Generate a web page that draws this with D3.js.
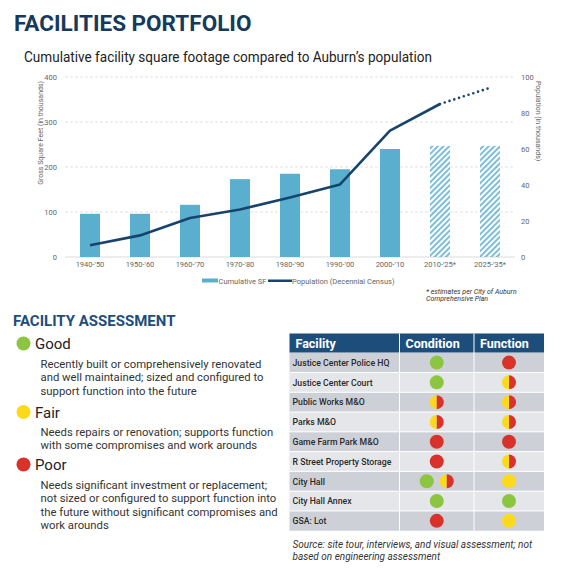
<!DOCTYPE html>
<html><head><meta charset="utf-8">
<script src="https://cdn.jsdelivr.net/npm/d3@7"></script>
<style>
html,body{margin:0;padding:0;background:#fff;}
svg{display:block;font-family:Roboto, "Noto Sans", sans-serif;}
</style></head>
<body>
<svg id="c" width="568" height="574"></svg>
<script>
// ---------- DATA ----------
const periods = ["1940-'50","1950-'60","1960-'70","1970-'80","1980-'90","1990-'00","2000-'10","2010-'25*","2025-'35*"];
const cumulativeSF = [96, 96, 116, 173, 185, 195, 240, 247, 247];          // thousands of sq ft
const projectedSF = [false,false,false,false,false,false,false,true,true];
const population = [6.5, 12, 21.7, 26.4, 33.1, 40.3, 70.2, 85, 94];        // thousands
const projectedPop = [false,false,false,false,false,false,false,false,true];
const leftTicks = [0, 100, 200, 300, 400];
const rightTicks = [0, 20, 40, 60, 80, 100];

const facilities = ["Justice Center Police HQ","Justice Center Court","Public Works M&O","Parks M&O","Game Farm Park M&O","R Street Property Storage","City Hall","City Hall Annex","GSA: Lot"];
const conditionRatings = [["good"],["good"],["fairpoor"],["fairpoor"],["poor"],["poor"],["good","fairpoor"],["good"],["poor"]];
const functionRatings = [["poor"],["fairpoor"],["fairpoor"],["fairpoor"],["poor"],["fairpoor"],["fair"],["good"],["fair"]];
const tableHeaders = ["Facility","Condition","Function"];

const legendLevels = ["Good","Fair","Poor"];
const legendKeys = ["good","fair","poor"];
const legendDescriptions = [
  ["Recently built or comprehensively renovated","and well maintained; sized and configured to","support function into the future"],
  ["Needs repairs or renovation; supports function","with some compromises and work arounds"],
  ["Needs significant investment or replacement;","not sized or configured to support function into","the future without significant compromises and","work arounds"]
];

// ---------- STYLE ----------
const C = {navy:"#16395c", blue:"#1d4e7b", bar:"#5aafcf", line:"#17446c", grid:"#d9d9d9", tick:"#666",
  good:"#8cc53f", fair:"#fdd91c", poor:"#d9322b", rowA:"#cdd1d7", rowB:"#e5e6e9"};

const svg = d3.select("#c");
svg.append("rect").attr("width",568).attr("height",574).attr("fill","#fff");

// Titles
svg.append("text").attr("x",14).attr("y",31).attr("font-size",22.5).attr("font-weight",700)
  .attr("fill",C.navy).text("FACILITIES PORTFOLIO");
svg.append("text").attr("x",24).attr("y",62).attr("font-size",14.5).attr("fill","#222")
  .attr("textLength",408).attr("lengthAdjust","spacingAndGlyphs")
  .text("Cumulative facility square footage compared to Auburn\u2019s population");

// ---------- CHART ----------
const x = d3.scaleBand().domain(periods).range([65,515]).paddingInner(0.6).paddingOuter(0.3);
const yL = d3.scaleLinear().domain([0,400]).range([257,77]);
const yR = d3.scaleLinear().domain([0,100]).range([257,77]);

const defs = svg.append("defs");
const pat = defs.append("pattern").attr("id","hatch").attr("patternUnits","userSpaceOnUse")
  .attr("width",4).attr("height",4).attr("patternTransform","rotate(45)");
pat.append("line").attr("x1",1).attr("y1",0).attr("x2",1).attr("y2",4)
  .attr("stroke",C.bar).attr("stroke-width",1.6);

// grid
svg.append("g").selectAll("line").data(leftTicks).join("line")
  .attr("x1",65).attr("x2",515).attr("y1",d=>yL(d)).attr("y2",d=>yL(d))
  .attr("stroke",d=>d===0?"#dcdcdc":C.grid).attr("stroke-width",d=>d===0?1.2:0.8)
  .attr("stroke-dasharray",d=>d===0?null:"3,2");

// axes
const axL = svg.append("g").attr("transform","translate(57,0)")
  .call(d3.axisLeft(yL).tickValues(leftTicks).tickSize(0).tickPadding(0));
const axR = svg.append("g").attr("transform","translate(521,0)")
  .call(d3.axisRight(yR).tickValues(rightTicks).tickSize(0).tickPadding(0));
[axL,axR].forEach(a=>{a.select(".domain").remove();
  a.selectAll("text").attr("font-size",7.5).attr("fill",C.tick).attr("font-family","Roboto");});
const axX = svg.append("g").attr("transform","translate(0,262)")
  .call(d3.axisBottom(x).tickSize(0).tickPadding(0));
axX.select(".domain").remove();
axX.selectAll("text").attr("font-size",7.5).attr("fill",C.tick).attr("font-family","Roboto");

svg.append("text").attr("transform","translate(43,81) rotate(-90)").attr("text-anchor","end")
  .attr("font-size",7).attr("fill",C.tick).text("Gross Square Feet (in thousands)");
svg.append("text").attr("transform","translate(536,81) rotate(90)").attr("text-anchor","start")
  .attr("font-size",7).attr("fill",C.tick).text("Population (in thousands)");

// bars
svg.append("g").selectAll("rect").data(periods).join("rect")
  .attr("x",d=>x(d)).attr("width",x.bandwidth())
  .attr("y",(d,i)=>yL(cumulativeSF[i])).attr("height",(d,i)=>yL(0)-yL(cumulativeSF[i]))
  .attr("fill",(d,i)=>projectedSF[i]?"url(#hatch)":C.bar);

// population line
const pts = periods.map((p,i)=>({x:x(p)+x.bandwidth()/2, y:yR(population[i]), proj:projectedPop[i]}));
const lineGen = d3.line().x(d=>d.x).y(d=>d.y);
const solid = pts.filter(d=>!d.proj);
const dotted = pts.slice(solid.length-1);
svg.append("path").attr("d",lineGen(solid)).attr("fill","none").attr("stroke",C.line)
  .attr("stroke-width",2.6).attr("stroke-linejoin","round");
svg.append("path").attr("d",lineGen(dotted)).attr("fill","none").attr("stroke",C.line)
  .attr("stroke-width",2.6).attr("stroke-dasharray","0,5").attr("stroke-linecap","round");

// legend
svg.append("rect").attr("x",202).attr("y",278.5).attr("width",16).attr("height",4).attr("fill",C.bar);
svg.append("text").attr("x",218.5).attr("y",283.5).attr("font-size",7.5).attr("fill",C.tick).text("Cumulative SF");
svg.append("rect").attr("x",268).attr("y",279.5).attr("width",24).attr("height",2.5).attr("fill",C.line);
svg.append("text").attr("x",292).attr("y",283.5).attr("font-size",7.5).attr("fill",C.tick).text("Population (Decennial Census)");

const fn = svg.append("text").attr("x",426).attr("font-size",7).attr("font-style","italic").attr("fill","#333");
fn.append("tspan").attr("x",426).attr("y",293.5).text("* estimates per City of Auburn");
fn.append("tspan").attr("x",426).attr("y",301).text("Comprehensive Plan");

// ---------- ASSESSMENT LEGEND ----------
svg.append("text").attr("x",13).attr("y",326).attr("font-size",15).attr("font-weight",700)
  .attr("fill",C.blue).text("FACILITY ASSESSMENT");
const levelY = [343.5, 412, 464.5];
const descY = [368, 436, 489];
legendLevels.forEach((lv,i)=>{
  svg.append("circle").attr("cx",23.5).attr("cy",levelY[i]).attr("r",7).attr("fill",C[legendKeys[i]]);
  svg.append("text").attr("x",35).attr("y",levelY[i]+5.5).attr("font-size",15).attr("fill","#222").text(lv);
  legendDescriptions[i].forEach((ln,j)=>{
    svg.append("text").attr("x",40.5).attr("y",descY[i]+j*13.4).attr("font-size",11.3)
      .attr("fill","#333").text(ln);
  });
});

// ---------- TABLE ----------
const tX = [289.5, 399.5, 474, 544];
const headTop = 333.5, headBot = 352.7, rowH = 19.78;
svg.append("rect").attr("x",tX[0]).attr("y",headTop).attr("width",tX[3]-tX[0]).attr("height",headBot-headTop).attr("fill",C.blue);
tableHeaders.forEach((h,i)=>{
  svg.append("text").attr("x",tX[i]+6).attr("y",headBot-5).attr("font-size",12.5).attr("font-weight",700)
    .attr("fill","#fff").text(h);
});
const rows = svg.append("g").selectAll("g").data(facilities).join("g")
  .attr("transform",(d,i)=>`translate(0,${headBot+i*rowH})`);
rows.append("rect").attr("x",tX[0]).attr("width",tX[3]-tX[0]).attr("height",rowH)
  .attr("fill",(d,i)=>i%2===0?C.rowA:C.rowB);
rows.append("text").attr("x",tX[0]+3).attr("y",rowH/2+3.3).attr("font-size",8.7).attr("font-weight",500)
  .attr("fill","#2a2a2a").text(d=>d);

function drawRating(g, key, cx, cy, r){
  if(key==="fairpoor"){
    const arcL = d3.arc().innerRadius(0).outerRadius(r).startAngle(Math.PI).endAngle(2*Math.PI);
    const arcR = d3.arc().innerRadius(0).outerRadius(r).startAngle(0).endAngle(Math.PI);
    g.append("path").attr("d",arcL()).attr("transform",`translate(${cx},${cy})`).attr("fill",C.fair);
    g.append("path").attr("d",arcR()).attr("transform",`translate(${cx},${cy})`).attr("fill",C.poor);
  } else {
    g.append("circle").attr("cx",cx).attr("cy",cy).attr("r",r).attr("fill",C[key]);
  }
}
rows.each(function(d,i){
  const g = d3.select(this), cy = rowH/2;
  const cc = (tX[1]+tX[2])/2, fc = (tX[2]+tX[3])/2;
  const cr = conditionRatings[i];
  cr.forEach((k,j)=>drawRating(g,k,cc + (j - (cr.length-1)/2)*20, cy, 7));
  functionRatings[i].forEach(k=>drawRating(g,k,fc,cy,7));
});
const gl = svg.append("g").attr("stroke","#fff").attr("stroke-width",1);
[tX[1],tX[2]].forEach(xv=>gl.append("line").attr("x1",xv).attr("x2",xv).attr("y1",headTop).attr("y2",headBot+9*rowH));
d3.range(1,9).forEach(i=>gl.append("line").attr("x1",tX[0]).attr("x2",tX[3]).attr("y1",headBot+i*rowH).attr("y2",headBot+i*rowH));

const src = svg.append("text").attr("font-size",10).attr("font-style","italic").attr("fill","#333");
src.append("tspan").attr("x",292.5).attr("y",548).text("Source: site tour, interviews, and visual assessment; not");
src.append("tspan").attr("x",292.5).attr("y",559.5).text("based on engineering assessment");
</script>
</body></html>
